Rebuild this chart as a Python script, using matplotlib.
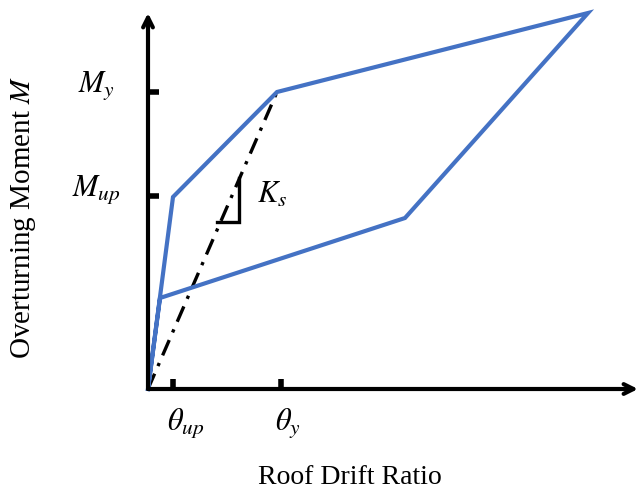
import matplotlib.pyplot as plt
from matplotlib.transforms import ScaledTranslation

plt.rcParams['font.family'] = ['Liberation Serif', 'DejaVu Serif']
plt.rcParams['mathtext.fontset'] = 'stix'

# Hysteresis loop (roof drift ratio vs overturning moment), arbitrary units
drift = [0, 25, 129, 440, 257, 12, 0]
moment = [0, 192, 297, 376, 171, 91, 0]

# Secant stiffness line (origin to yield point)
secant_x = [0, 129]
secant_y = [0, 297]

# Slope marker next to the secant line
slope_x = [69, 91, 91]
slope_y = [167, 167, 211]

x_ticks = [25, 133]
x_labels = [r'$\theta_{up}$', r'$\theta_y$']
y_ticks = [193, 297]
y_labels = [r'$M_{up}$', r'$M_y$']

fig = plt.figure(figsize=(6.39, 4.90), dpi=100)
ax = fig.add_axes([148 / 639, 101 / 490, 490 / 639, 380 / 490])
ax.set_xlim(0, 490)
ax.set_ylim(0, 380)

ax.plot(drift, moment, color='#4472C4', lw=3, solid_joinstyle='miter', clip_on=False, zorder=3)
ax.plot(secant_x, secant_y, color='black', lw=2.4, linestyle=(0, (5, 2.5, 1, 2.5)), zorder=2)
ax.plot(slope_x, slope_y, color='black', lw=2.4, solid_joinstyle='miter')
ax.text(109, 194, r'$K_s$', fontsize=22, va='center', ha='left')

for s in ax.spines.values():
    s.set_visible(False)

# axes drawn as arrows
arrow = dict(arrowstyle='->,head_length=0.7,head_width=0.35', color='black', lw=3, shrinkA=0, shrinkB=0)
ax.annotate('', xy=(1.0, 0), xytext=(0, 0), xycoords='axes fraction', arrowprops=arrow, annotation_clip=False)
ax.annotate('', xy=(0, 376 / 380), xytext=(0, 0), xycoords='axes fraction', arrowprops=arrow, annotation_clip=False)

ax.set_xticks(x_ticks)
ax.set_xticklabels(x_labels, fontsize=22, ha='left')
ax.set_yticks(y_ticks)
ax.set_yticklabels(y_labels, fontsize=22, ha='center', va='baseline')
ax.tick_params(axis='x', direction='in', length=7, width=4, pad=13)
ax.tick_params(axis='y', direction='in', length=8, width=4, pad=37)

shift = ScaledTranslation(-6 / 100, 0, fig.dpi_scale_trans)
for lab in ax.get_xticklabels():
    lab.set_transform(lab.get_transform() + shift)

fig.text(350 / 639, 1 - 484 / 490, 'Roof Drift Ratio', fontsize=20, ha='center', va='baseline')
fig.text(24 / 639, 1 - 217 / 490, 'Overturning Moment $M$', fontsize=21, rotation=90, ha='center', va='center')

fig.savefig('out.png', dpi=100)
